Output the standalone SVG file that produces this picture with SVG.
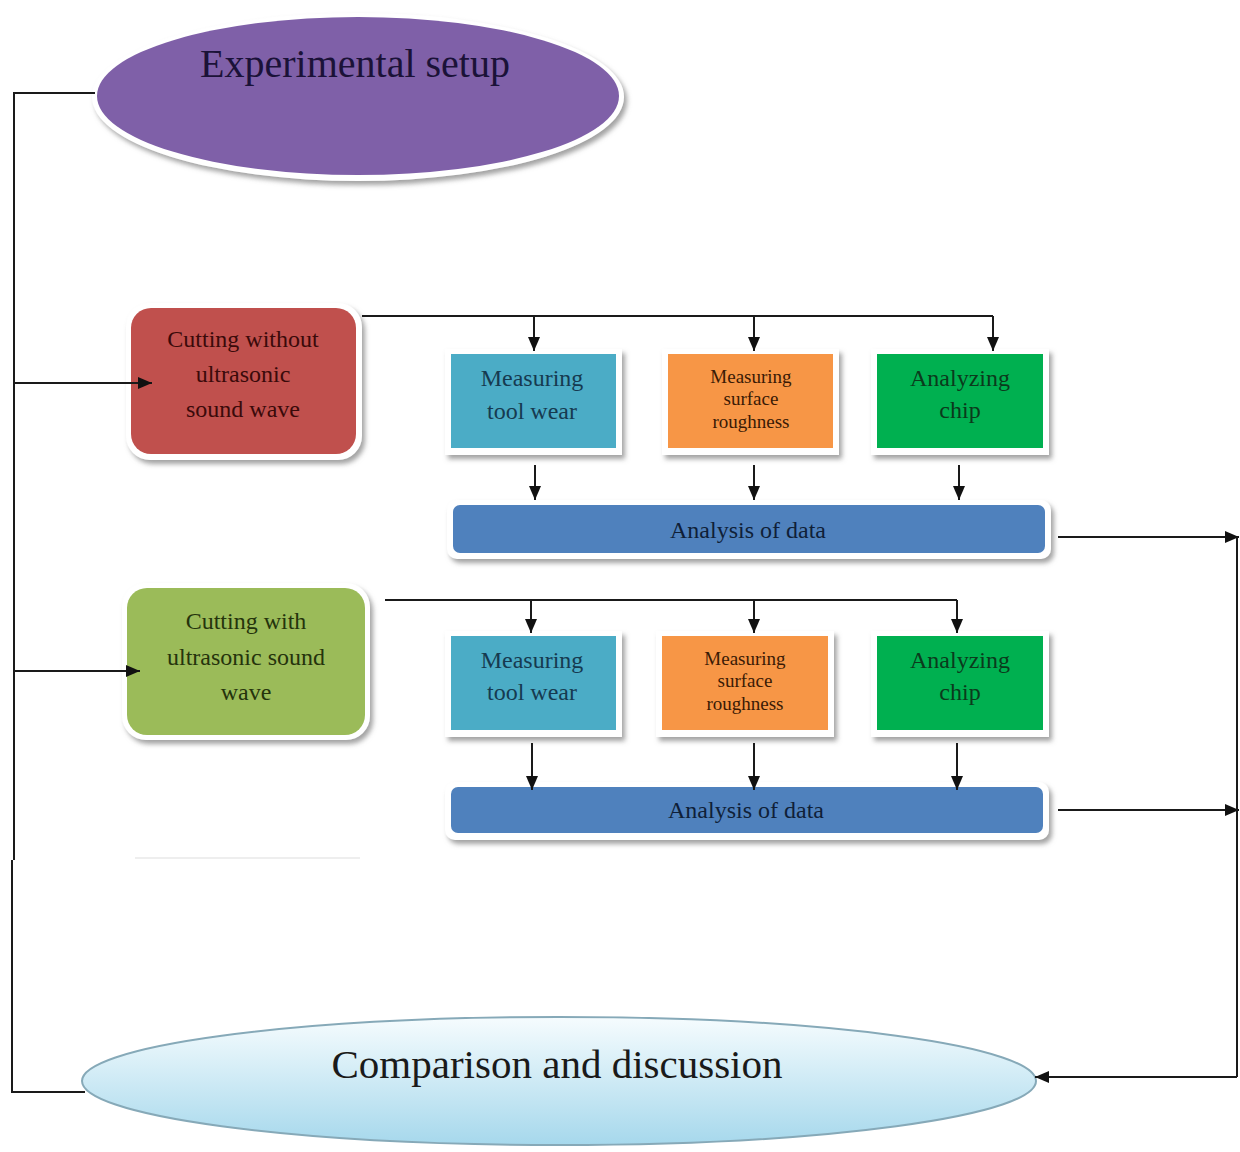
<svg xmlns="http://www.w3.org/2000/svg" width="1240" height="1152" viewBox="0 0 1240 1152">
<defs>
<filter id="sh" x="-10%" y="-10%" width="125%" height="130%">
<feDropShadow dx="3" dy="4" stdDeviation="2.5" flood-color="#7a7a7a" flood-opacity="0.7"/>
</filter>
<linearGradient id="gb" x1="0" y1="0" x2="0" y2="1">
<stop offset="0" stop-color="#f6fcfe"/>
<stop offset="1" stop-color="#a6d8ec"/>
</linearGradient>
<marker id="ah" viewBox="0 0 14 12" refX="14" refY="6" markerWidth="14" markerHeight="12" markerUnits="userSpaceOnUse" orient="auto">
<path d="M0,0 L14,6 L0,12 z" fill="#111"/>
</marker>
<style>
text{font-family:"Liberation Serif","Times New Roman",serif;text-anchor:middle}
.frame{fill:#ffffff;filter:url(#sh)}
.c{fill:none;stroke:#1a1a1a;stroke-width:2}
.a{fill:none;stroke:#1a1a1a;stroke-width:2;marker-end:url(#ah)}
.t24{font-size:24px}
.t19{font-size:19px}
</style>
</defs>
<rect width="1240" height="1152" fill="#ffffff"/>

<g id="experimental-setup">
<ellipse cx="358" cy="97" rx="266" ry="84" fill="#ffffff" filter="url(#sh)"/>
<ellipse cx="358" cy="96" rx="261" ry="79" fill="#7f60a8"/>
<text x="355" y="77" style="font-size:40px" fill="#1b1238">Experimental setup</text>
</g>

<g id="cutting-without">
<rect class="frame" x="126" y="303" width="236" height="157" rx="24"/>
<rect x="131" y="308" width="225" height="146" rx="20" fill="#c0504d"/>
<text class="t24" x="243" y="347" fill="#3a0a0a">Cutting without</text>
<text class="t24" x="243" y="382" fill="#3a0a0a">ultrasonic</text>
<text class="t24" x="243" y="417" fill="#3a0a0a">sound wave</text>
</g>

<g id="tool-wear-1">
<rect class="frame" x="445" y="349" width="177" height="106"/>
<rect x="451" y="354" width="165" height="94" fill="#4bacc6"/>
<text class="t24" x="532" y="386" fill="#163a50">Measuring</text>
<text class="t24" x="532" y="419" fill="#163a50">tool wear</text>
</g>

<g id="roughness-1">
<rect class="frame" x="662" y="349" width="177" height="106"/>
<rect x="668" y="354" width="165" height="94" fill="#f79646"/>
<text class="t19" x="751" y="383" fill="#3a1a05">Measuring</text>
<text class="t19" x="751" y="405" fill="#3a1a05">surface</text>
<text class="t19" x="751" y="428" fill="#3a1a05">roughness</text>
</g>

<g id="chip-1">
<rect class="frame" x="871" y="349" width="178" height="106"/>
<rect x="877" y="354" width="166" height="94" fill="#00b050"/>
<text class="t24" x="960" y="386" fill="#0b3a1c">Analyzing</text>
<text class="t24" x="960" y="418" fill="#0b3a1c">chip</text>
</g>

<g id="analysis-1">
<rect class="frame" x="447" y="500" width="604" height="59" rx="10"/>
<rect x="453" y="505" width="592" height="48" rx="7" fill="#4f81bd"/>
<text class="t24" x="748" y="538" fill="#0f1f38">Analysis of data</text>
</g>

<g id="cutting-with">
<rect class="frame" x="122" y="583" width="248" height="157" rx="24"/>
<rect x="127" y="588" width="238" height="147" rx="20" fill="#9bbb59"/>
<text class="t24" x="246" y="629" fill="#25330c">Cutting with</text>
<text class="t24" x="246" y="665" fill="#25330c">ultrasonic sound</text>
<text class="t24" x="246" y="700" fill="#25330c">wave</text>
</g>

<g id="tool-wear-2">
<rect class="frame" x="445" y="631" width="177" height="106"/>
<rect x="451" y="636" width="165" height="94" fill="#4bacc6"/>
<text class="t24" x="532" y="668" fill="#163a50">Measuring</text>
<text class="t24" x="532" y="700" fill="#163a50">tool wear</text>
</g>

<g id="roughness-2">
<rect class="frame" x="656" y="631" width="178" height="106"/>
<rect x="662" y="636" width="166" height="94" fill="#f79646"/>
<text class="t19" x="745" y="665" fill="#3a1a05">Measuring</text>
<text class="t19" x="745" y="687" fill="#3a1a05">surface</text>
<text class="t19" x="745" y="710" fill="#3a1a05">roughness</text>
</g>

<g id="chip-2">
<rect class="frame" x="871" y="631" width="178" height="106"/>
<rect x="877" y="636" width="166" height="94" fill="#00b050"/>
<text class="t24" x="960" y="668" fill="#0b3a1c">Analyzing</text>
<text class="t24" x="960" y="700" fill="#0b3a1c">chip</text>
</g>

<g id="analysis-2">
<rect class="frame" x="445" y="782" width="604" height="58" rx="10"/>
<rect x="451" y="787" width="592" height="46" rx="7" fill="#4f81bd"/>
<text class="t24" x="746" y="818" fill="#0f1f38">Analysis of data</text>
</g>

<g id="comparison">
<ellipse cx="559" cy="1081" rx="477" ry="64" fill="url(#gb)" stroke="#86a9b8" stroke-width="2"/>
<text x="557" y="1078" style="font-size:41px" fill="#1a1a1a">Comparison and discussion</text>
</g>

<g id="connectors">
<path class="c" d="M95,93 H14 V860"/>
<path class="c" d="M12,860 V1092 H85"/>
<path class="a" d="M14,383 H152"/>
<path class="a" d="M14,671 H140"/>
<path class="c" d="M362,316 H993"/>
<path class="a" d="M534,316 V351"/>
<path class="a" d="M754,316 V351"/>
<path class="a" d="M993,316 V351"/>
<path class="a" d="M535,465 V500"/>
<path class="a" d="M754,465 V500"/>
<path class="a" d="M959,465 V500"/>
<path class="c" d="M385,600 H957"/>
<path class="a" d="M531,600 V633"/>
<path class="a" d="M754,600 V633"/>
<path class="a" d="M957,600 V633"/>
<path class="a" d="M532,743 V790"/>
<path class="a" d="M754,743 V790"/>
<path class="a" d="M957,743 V790"/>
<path class="a" d="M1058,537 H1239"/>
<path class="a" d="M1058,810 H1239"/>
<path class="c" d="M1237,537 V1077"/>
<path class="a" d="M1237,1077 H1035"/>
<path d="M135,858 H360" stroke="#eeeeee" stroke-width="2" fill="none"/>
</g>
</svg>
